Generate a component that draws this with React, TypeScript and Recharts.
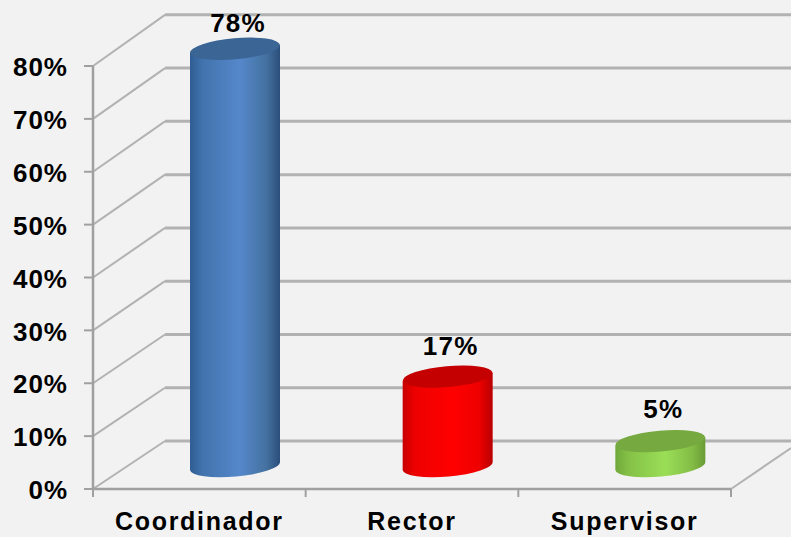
import { Bar, BarChart, CartesianGrid, LabelList, XAxis, YAxis } from 'recharts'

const categories = ['Coordinador', 'Rector', 'Supervisor']
const percentages = [78, 17, 5]
const yTicks = [0, 10, 20, 30, 40, 50, 60, 70, 80]

// left edge, shade, centre, shade, right edge
const barGradients = [
  ['#2f5d94', '#4273ad', '#5588cb', '#44719f', '#2b4e7b'],
  ['#c80000', '#ee0000', '#ff0000', '#ee0000', '#b80000'],
  ['#6fa83b', '#84c046', '#9ade57', '#84bd46', '#689c36'],
]
const lidColors = ['#3a6595', '#c40000', '#76a93f']

const chartData = categories.map((name, i) => ({ name, value: percentages[i] }))

const WIDTH = 791
const HEIGHT = 537
const LEFT = 93
const RIGHT = 60
const TOP = 66
const BOTTOM = 48
const BAND = (WIDTH - LEFT - RIGHT) / categories.length
const DEPTH_X = 72
const AXIS = '#a0a0a0'
const GRID = '#b2b2b2'
const FONT = '"Liberation Sans", Arial, sans-serif'

function DepthGridLine({ x1, x2, y1 }: any) {
  const isFloor = y1 > HEIGHT - BOTTOM - 5
  const depthY = 48 + (HEIGHT - BOTTOM - y1) * 0.0075
  return (
    <g fill="none" stroke={GRID}>
      <line x1={x1} y1={y1} x2={x1 + DEPTH_X} y2={y1 - depthY} strokeWidth={2} />
      <line x1={x1 + DEPTH_X} y1={y1 - depthY} x2={x2 + RIGHT} y2={y1 - depthY} strokeWidth={3} />
      {isFloor && <line x1={x2} y1={y1} x2={x2 + RIGHT} y2={y1 - 41} strokeWidth={2} />}
    </g>
  )
}

function Cylinder({ x, y, width, height, index }: any) {
  const hw = width / 2
  const cx = x + hw + 36
  const lidY = y - 21 - height * 0.0165
  const baseY = y + height - 23
  const tilt = 4
  const ry = 10.5
  const body = [
    `M${cx - hw} ${lidY + tilt}`,
    `L${cx - hw} ${baseY + tilt}`,
    `A${hw} ${ry} -5 0 0 ${cx + hw} ${baseY - tilt}`,
    `L${cx + hw} ${lidY - tilt}`,
    'Z',
  ].join(' ')
  return (
    <g>
      <path d={body} fill={`url(#cyl${index})`} />
      <ellipse
        cx={cx}
        cy={lidY}
        rx={hw}
        ry={ry}
        fill={lidColors[index]}
        transform={`rotate(-5 ${cx} ${lidY})`}
      />
    </g>
  )
}

function CategoryTick({ x, index, payload }: any) {
  const left = x - BAND / 2
  return (
    <g>
      <line x1={left} y1={HEIGHT - BOTTOM} x2={left} y2={HEIGHT - BOTTOM + 8} stroke={AXIS} strokeWidth={2} />
      {index === categories.length - 1 && (
        <line
          x1={left + BAND}
          y1={HEIGHT - BOTTOM}
          x2={left + BAND}
          y2={HEIGHT - BOTTOM + 8}
          stroke={AXIS}
          strokeWidth={2}
        />
      )}
      <text
        x={x}
        y={530}
        textAnchor="middle"
        fontFamily={FONT}
        fontWeight="bold"
        fontSize={25}
        letterSpacing={1.7}
        fill="#000"
      >
        {payload.value}
      </text>
    </g>
  )
}

function ValueLabel({ x, y, width, value }: any) {
  return (
    <text
      x={x + width / 2 + 39}
      y={y - 44.5}
      textAnchor="middle"
      fontFamily={FONT}
      fontWeight="bold"
      fontSize={26}
      letterSpacing={1.2}
      fill="#000"
    >
      {value}%
    </text>
  )
}

export default function App() {
  return (
    <div style={{ position: 'absolute', left: 0, top: 0, width: WIDTH, height: HEIGHT, background: '#f2f2f2' }}>
      <BarChart
        width={WIDTH}
        height={HEIGHT}
        data={chartData}
        margin={{ left: 0, right: RIGHT, top: TOP, bottom: 0 }}
      >
        <defs>
          {barGradients.map((stops, i) => (
            <linearGradient key={i} id={`cyl${i}`} x1="0" y1="0" x2="1" y2="0">
              <stop offset="0" stopColor={stops[0]} />
              <stop offset="0.14" stopColor={stops[1]} />
              <stop offset="0.55" stopColor={stops[2]} />
              <stop offset="0.85" stopColor={stops[3]} />
              <stop offset="1" stopColor={stops[4]} />
            </linearGradient>
          ))}
        </defs>
        <CartesianGrid vertical={false} horizontal={(props: any) => <DepthGridLine key={props.key} {...props} />} />
        <XAxis
          dataKey="name"
          height={BOTTOM}
          tick={<CategoryTick />}
          tickLine={false}
          interval={0}
          axisLine={{ stroke: AXIS, strokeWidth: 2.5 }}
        />
        <YAxis
          width={LEFT}
          domain={[0, 80]}
          ticks={yTicks}
          interval={0}
          tickFormatter={(v: number) => `${v}%`}
          tickSize={9}
          tickMargin={16}
          tickLine={{ stroke: AXIS, strokeWidth: 2 }}
          axisLine={{ stroke: AXIS, strokeWidth: 2.5 }}
          tick={{ fill: '#000', fontFamily: FONT, fontWeight: 'bold', fontSize: 26, letterSpacing: 1, dy: 1 }}
        />
        <Bar dataKey="value" barSize={90} shape={<Cylinder />} isAnimationActive={false}>
          <LabelList dataKey="value" content={<ValueLabel />} />
        </Bar>
      </BarChart>
    </div>
  )
}
